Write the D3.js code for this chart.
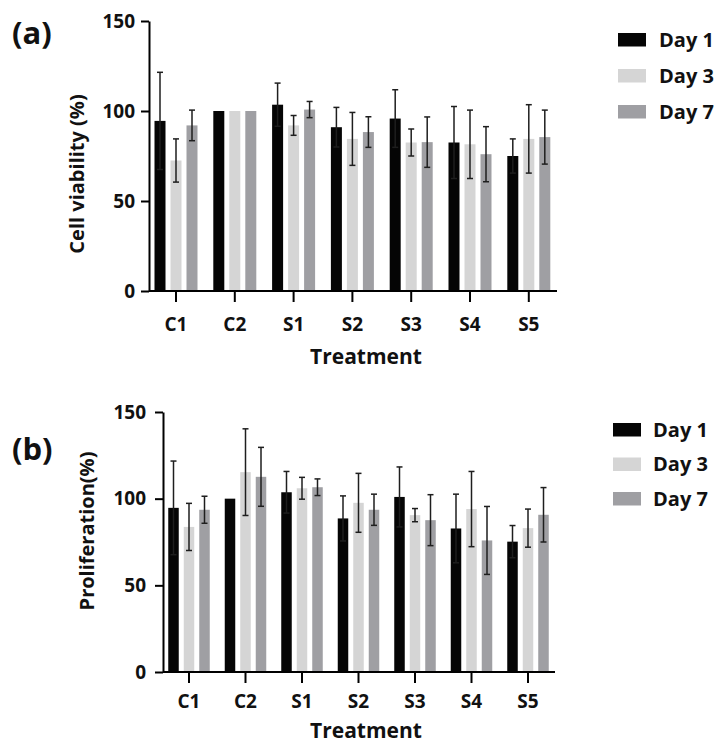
<!DOCTYPE html>
<html>
<head>
<meta charset="utf-8">
<script src="https://cdn.jsdelivr.net/npm/d3@7"></script>
<style>
  html, body { margin: 0; padding: 0; background: #fff; }
  svg { display: block; }
  text { font-family: "Open Sans", "DejaVu Sans", sans-serif; font-weight: 700; fill: #111; }
</style>
</head>
<body>
<svg id="chart" width="723" height="753"></svg>
<script>
// ---------- data ----------
const categories = ["C1", "C2", "S1", "S2", "S3", "S4", "S5"];
const days = ["Day 1", "Day 3", "Day 7"];
const yTicks = [0, 50, 100, 150];

// Panel (a): Cell viability (%)
const viabilityDay1 = [94.5, 100, 103.5, 91.0, 95.8, 82.5, 75.0];
const viabilityDay3 = [72.5, 100, 92.0, 84.5, 82.5, 81.5, 84.5];
const viabilityDay7 = [92.0, 100, 100.8, 88.3, 82.7, 76.0, 85.5];
const viabilitySdDay1 = [27.0, 0, 12.0, 11.0, 16.0, 20.0, 9.5];
const viabilitySdDay3 = [12.0, 0, 5.5, 14.7, 7.5, 19.0, 19.0];
const viabilitySdDay7 = [8.5, 0, 4.5, 8.5, 14.0, 15.3, 15.0];

// Panel (b): Proliferation (%)
const prolifDay1 = [94.7, 100, 103.7, 88.6, 101.0, 82.8, 75.2];
const prolifDay3 = [83.7, 115.3, 106.0, 97.6, 90.5, 94.0, 83.0];
const prolifDay7 = [93.6, 112.6, 106.6, 93.6, 87.6, 75.9, 90.7];
const prolifSdDay1 = [27.0, 0, 12.0, 13.0, 17.3, 19.8, 9.3];
const prolifSdDay3 = [13.6, 25.0, 6.3, 17.0, 3.8, 21.7, 11.0];
const prolifSdDay7 = [7.8, 17.0, 4.8, 9.0, 14.7, 19.6, 15.7];

const dayColors = ["#050505", "#d5d5d5", "#9f9fa3"];

// ---------- drawing ----------
const svg = d3.select("#chart");

function buildRows(v1, v3, v7, s1, s3, s7) {
  return categories.map((c, i) => ({
    cat: c,
    vals: [
      { day: days[0], v: v1[i], sd: s1[i] },
      { day: days[1], v: v3[i], sd: s3[i] },
      { day: days[2], v: v7[i], sd: s7[i] }
    ]
  }));
}

function drawPanel(cfg) {
  const g = svg.append("g");
  const x = d3.scaleBand().domain(categories).range([cfg.x0, cfg.x1]).paddingInner(0).paddingOuter(0);
  const pad = 1 - cfg.barW / cfg.sub;
  const xi = d3.scaleBand().domain(days).range([-cfg.sub * 1.5, cfg.sub * 1.5]).paddingInner(pad).paddingOuter(pad / 2);
  const y = d3.scaleLinear().domain([0, 150]).range([cfg.yBottom, cfg.yTop]);
  const color = d3.scaleOrdinal().domain(days).range(dayColors);

  // bars
  const groups = g.selectAll("g.grp").data(cfg.rows).join("g")
    .attr("transform", d => `translate(${x(d.cat) + x.bandwidth() / 2},0)`);
  groups.selectAll("rect").data(d => d.vals).join("rect")
    .attr("x", d => xi(d.day))
    .attr("width", xi.bandwidth())
    .attr("y", d => y(d.v))
    .attr("height", d => y(0) - y(d.v))
    .attr("fill", d => color(d.day));

  // error bars
  const eb = groups.selectAll("g.eb").data(d => d.vals.filter(v => v.sd > 0)).join("g")
    .attr("class", "eb")
    .attr("transform", d => `translate(${xi(d.day) + xi.bandwidth() / 2},0)`)
    .attr("stroke", "#1e1e1e").attr("stroke-width", 1.5).attr("fill", "none");
  eb.append("line").attr("x1", 0).attr("x2", 0)
    .attr("y1", d => y(d.v - d.sd)).attr("y2", d => y(d.v + d.sd));
  eb.append("line").attr("x1", -3).attr("x2", 3)
    .attr("y1", d => y(d.v + d.sd)).attr("y2", d => y(d.v + d.sd));
  eb.append("line").attr("x1", -3).attr("x2", 3)
    .attr("y1", d => y(d.v - d.sd)).attr("y2", d => y(d.v - d.sd));

  // y axis
  const ya = g.append("g").attr("transform", `translate(${cfg.yAxisX},0)`)
    .call(d3.axisLeft(y).tickValues(yTicks).tickSize(8).tickSizeOuter(0).tickPadding(cfg.yPad));
  ya.select(".domain").attr("stroke", "#000").attr("stroke-width", 2);
  ya.selectAll(".tick line").attr("stroke", "#000").attr("stroke-width", 2);
  ya.selectAll(".tick text").style("font-size", "19px").style("font-family", "Open Sans").style("font-weight", 700).attr("fill", "#111");

  // x axis
  const xa = g.append("g").attr("transform", `translate(0,${cfg.yBottom})`)
    .call(d3.axisBottom(x).tickSize(11).tickSizeOuter(0).tickPadding(cfg.xPad));
  xa.select(".domain").attr("d", `M${cfg.yAxisX},0H${cfg.xEnd}`).attr("stroke", "#000").attr("stroke-width", 2);
  xa.selectAll(".tick line").attr("stroke", "#000").attr("stroke-width", 2);
  xa.selectAll(".tick text").style("font-size", "19px").style("font-family", "Open Sans").style("font-weight", 700).attr("fill", "#111");

  // axis titles
  g.append("text").attr("x", 366).attr("y", cfg.xTitleY).attr("text-anchor", "middle")
    .style("font-size", "21px").text("Treatment");
  g.append("text").attr("transform", `translate(${cfg.yTitleX},${cfg.yTitleY}) rotate(-90)`)
    .attr("text-anchor", "middle").style("font-size", "20px").text(cfg.yTitle);

  // panel label
  g.append("text").attr("x", 12).attr("y", cfg.labelY).style("font-size", "31px").text(cfg.label);

  // legend
  const lg = g.append("g").attr("transform", `translate(${cfg.legX},${cfg.legY})`);
  const items = lg.selectAll("g").data(days).join("g")
    .attr("transform", (d, i) => `translate(0,${i * cfg.legStep})`);
  items.append("rect").attr("width", 28).attr("height", 13.5).attr("fill", d => color(d));
  items.append("text").attr("x", cfg.legTextDx).attr("y", 13.8).style("font-size", "20px").text(d => d);
}

drawPanel({
  rows: buildRows(viabilityDay1, viabilityDay3, viabilityDay7, viabilitySdDay1, viabilitySdDay3, viabilitySdDay7),
  x0: 146.6, x1: 558.2, sub: 16, barW: 11,
  yTop: 21, yBottom: 291, yAxisX: 149, xEnd: 557, yPad: 6, xPad: 16,
  xTitleY: 364, yTitleX: 84, yTitleY: 174, yTitle: "Cell viability (%)",
  label: "(a)", labelY: 44,
  legX: 618, legY: 33, legStep: 36, legTextDx: 41
});

drawPanel({
  rows: buildRows(prolifDay1, prolifDay3, prolifDay7, prolifSdDay1, prolifSdDay3, prolifSdDay7),
  x0: 160.75, x1: 556.25, sub: 15.5, barW: 10.5,
  yTop: 412, yBottom: 672, yAxisX: 163, xEnd: 555, yPad: 9, xPad: 12,
  xTitleY: 738, yTitleX: 94, yTitleY: 531, yTitle: "Proliferation(%)",
  label: "(b)", labelY: 460,
  legX: 613, legY: 423, legStep: 34.5, legTextDx: 40
});
</script>
</body>
</html>
